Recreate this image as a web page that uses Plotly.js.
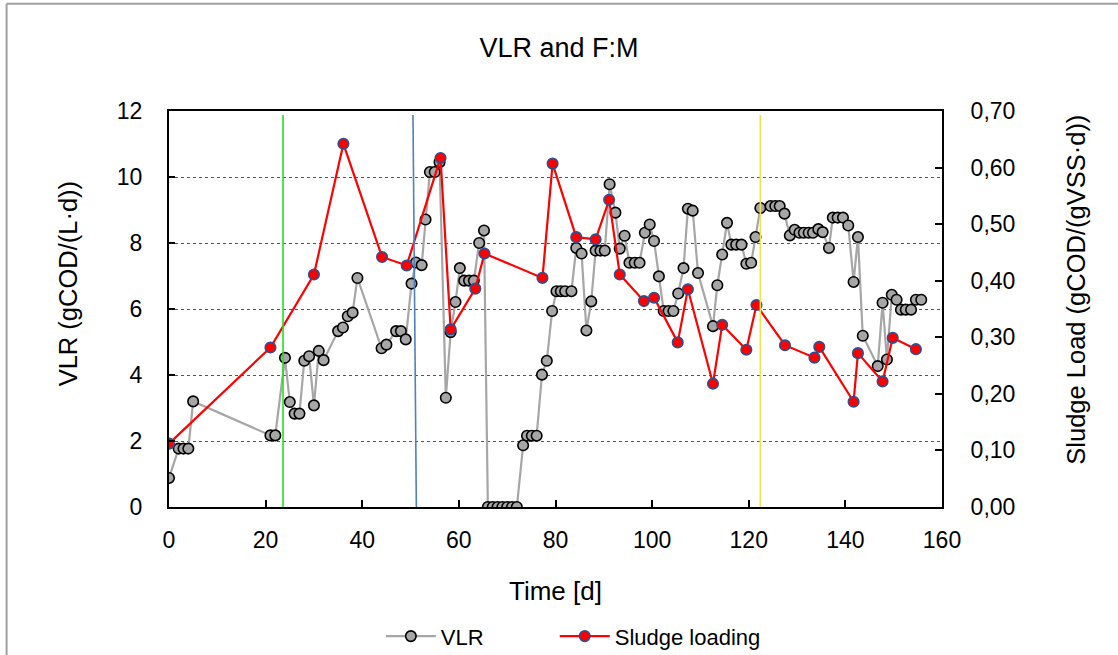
<!DOCTYPE html>
<html>
<head>
<meta charset="utf-8">
<script src="https://cdn.plot.ly/plotly-3.0.1.min.js"></script>
<style>
html,body{margin:0;padding:0;background:#fff;}
#chart{width:1118px;height:655px;}
</style>
</head>
<body>
<div id="chart"></div>
<script>
// ---- data ----
const vlrDays = [0,2,3,4,5,21,22,24,25,26,27,28,29,30,31,32,35,36,37,38,39,44,45,47,48,49,
  50.2,51.1,52.3,53.1,54,55,56,57.3,58.3,59.3,60.2,61.1,62.1,63.1,64.2,65.2,
  66,67,68,69,70,71,72,73.3,74.1,75.1,76.1,77.2,78.2,79.3,80.2,81.1,82,83.3,
  84.3,85.4,86.4,87.4,88.3,89.3,90.2,91.2,92.4,93.3,94.3,95.3,96.4,97.4,98.5,99.5,
  100.4,101.4,102.4,103.4,104.4,105.4,106.5,107.4,108.4,109.5,112.6,113.5,114.5,115.5,
  116.4,117.4,118.5,119.5,120.5,121.4,122.4,124.5,125.5,126.4,127.4,128.5,129.5,
  130.5,131.4,132.4,133.3,134.4,135.3,136.6,137.4,138.4,139.5,140.6,141.7,142.6,143.6,
  146.7,147.7,148.6,149.6,150.6,151.5,152.5,153.6,154.6,155.7];
const vlrValues = [0.88,1.77,1.77,1.77,3.2,2.17,2.17,4.52,3.18,2.83,2.83,4.43,4.57,3.08,4.73,4.45,5.33,5.44,5.78,5.89,6.94,4.81,4.92,5.33,5.33,5.08,
  6.77,7.41,7.33,8.71,10.15,10.15,10.45,3.31,5.3,6.21,7.24,6.86,6.86,6.86,8.0,8.38,
  0,0,0,0,0,0,0,1.87,2.16,2.16,2.16,4.01,4.43,5.94,6.54,6.54,6.54,6.54,
  7.85,7.68,5.35,6.23,7.77,7.77,7.77,9.78,8.92,7.83,8.22,7.40,7.40,7.40,8.31,8.56,
  8.06,6.99,5.94,5.94,5.94,6.47,7.24,9.04,8.98,7.09,5.48,6.72,7.65,8.61,
  7.95,7.95,7.95,7.37,7.40,8.18,9.06,9.12,9.12,9.12,8.89,8.23,8.40,
  8.31,8.31,8.31,8.31,8.42,8.33,7.85,8.77,8.77,8.77,8.53,6.82,8.18,5.19,
  4.27,6.19,4.47,6.43,6.28,5.98,5.98,5.98,6.28,6.28];

const sludgeDays = [0,21,30,36.1,44.1,49.2,56.2,58.3,63.4,65.3,77.3,79.4,84.3,88.3,91.1,93.3,
  98.3,100.4,105.3,107.4,112.6,114.5,119.5,121.6,127.5,133.6,134.6,141.7,142.6,147.7,149.8,154.6];
const sludgeValues = [0.112,0.282,0.411,0.642,0.442,0.427,0.617,0.314,0.386,0.448,0.405,0.607,0.477,0.473,0.543,0.411,
  0.364,0.370,0.291,0.385,0.218,0.322,0.278,0.357,0.286,0.264,0.283,0.186,0.272,0.222,0.299,0.279];

// vertical marker lines (day at bottom, day at top)
const markerLineBottom = [23.6, 51.2, 122.4];
const markerLineTop    = [23.6, 50.5, 122.4];
const markerLineColors = ['#22e022', '#4f81bd', '#f5e050'];

const xTicks = [0,20,40,60,80,100,120,140,160];
const yTicks = [0,2,4,6,8,10,12];
const y2Ticks = [0,0.1,0.2,0.3,0.4,0.5,0.6,0.7];

// ---- chart ----
const FONT = 'Liberation Sans, Arial, sans-serif';

const traces = [
  {
    x: vlrDays, y: vlrValues, name: 'VLR', type: 'scatter', mode: 'lines+markers',
    line: {color: '#a6a6a6', width: 2.2},
    marker: {symbol: 'circle', size: 10.5, color: '#a6a6a6', line: {color: '#000000', width: 1.6}},
    yaxis: 'y', legend: 'legend'
  },
  {
    x: sludgeDays, y: sludgeValues, name: 'Sludge loading', type: 'scatter', mode: 'lines+markers',
    line: {color: '#ff0000', width: 2.2},
    marker: {symbol: 'circle', size: 10.5, color: '#ff0000', line: {color: '#2f4f8f', width: 1.6}},
    yaxis: 'y2', legend: 'legend2'
  }
];

const shapes = markerLineBottom.map((d, i) => ({
  type: 'line', xref: 'x', yref: 'y', x0: d, x1: markerLineTop[i], y0: 0, y1: 11.88,
  line: {color: markerLineColors[i], width: 1.6}, layer: 'above'
}));
// outer chart frame (left and top edges)
const L = 169, R = 942.5, T = 110.7, B = 506.7;
const W = R - L, H = B - T;
const px = v => (v - L) / W, py = v => (B - v) / H;
shapes.push({type:'line', xref:'paper', yref:'paper', x0: px(6.5), x1: px(6.5), y0: py(3.5), y1: py(660),
  line:{color:'#a0a0a0', width:2}});
shapes.push({type:'line', xref:'paper', yref:'paper', x0: px(6.5), x1: px(1125), y0: py(3.5), y1: py(3.5),
  line:{color:'#a0a0a0', width:2}});

const legendCommon = {orientation: 'h', xanchor: 'left', y: py(636), yanchor: 'middle',
  font: {family: FONT, size: 22, color: '#000'}, itemwidth: 50,
  bgcolor: 'rgba(0,0,0,0)', borderwidth: 0};

const layout = {
  width: 1118, height: 655,
  paper_bgcolor: '#ffffff', plot_bgcolor: '#ffffff',
  separators: ', ',
  margin: {l: L, r: 1118 - R, t: T, b: 655 - B, pad: 0, autoexpand: false},
  font: {family: FONT, color: '#000000', size: 22},
  title: {text: 'VLR and F:M', font: {family: FONT, size: 27, color: '#000'},
          x: 0.5, xref: 'container', xanchor: 'center', y: 1 - 48/655, yref: 'container', yanchor: 'middle'},
  showlegend: true,
  legend: Object.assign({}, legendCommon, {x: px(381)}),
  legend2: Object.assign({}, legendCommon, {x: px(555)}),
  xaxis: {
    range: [0, 160], tickvals: xTicks, ticks: 'inside', ticklen: 7, tickwidth: 2, tickcolor: '#000',
    showline: true, linecolor: '#000', linewidth: 2, mirror: true,
    showgrid: false, zeroline: false, fixedrange: true,
    tickfont: {family: FONT, size: 23}, ticklabelstandoff: 11,
    title: {text: 'Time [d]', font: {family: FONT, size: 26}, standoff: 30},
    automargin: false
  },
  yaxis: {
    range: [0, 12], tickvals: yTicks, ticks: 'inside', ticklen: 6, tickwidth: 1.5, tickcolor: '#000',
    showline: true, linecolor: '#000', linewidth: 2,
    showgrid: true, gridcolor: '#555555', griddash: 'dot', gridwidth: 1,
    zeroline: false, fixedrange: true,
    tickfont: {family: FONT, size: 23}, ticklabelstandoff: 20,
    automargin: false
  },
  yaxis2: {
    range: [0, 0.7], tickvals: y2Ticks, tickformat: '.2f', overlaying: 'y', side: 'right',
    ticks: 'inside', ticklen: 7, tickwidth: 2, tickcolor: '#000',
    showline: true, linecolor: '#000', linewidth: 2,
    showgrid: false, zeroline: false, fixedrange: true,
    tickfont: {family: FONT, size: 23}, ticklabelstandoff: 22,
    automargin: false
  },
  shapes: shapes,
  annotations: [
    {text: 'VLR (gCOD/(L·d))', xref: 'paper', yref: 'paper', x: px(68), y: py(284),
     xanchor: 'center', yanchor: 'middle', textangle: -90, showarrow: false,
     font: {family: FONT, size: 25.5, color: '#000'}},
    {text: 'Sludge Load (gCOD/(gVSS·d))', xref: 'paper', yref: 'paper', x: px(1077), y: py(289),
     xanchor: 'center', yanchor: 'middle', textangle: -90, showarrow: false,
     font: {family: FONT, size: 25.5, color: '#000'}}
  ]
};

Plotly.newPlot('chart', traces, layout, {staticPlot: true, displayModeBar: false});
</script>
</body>
</html>
